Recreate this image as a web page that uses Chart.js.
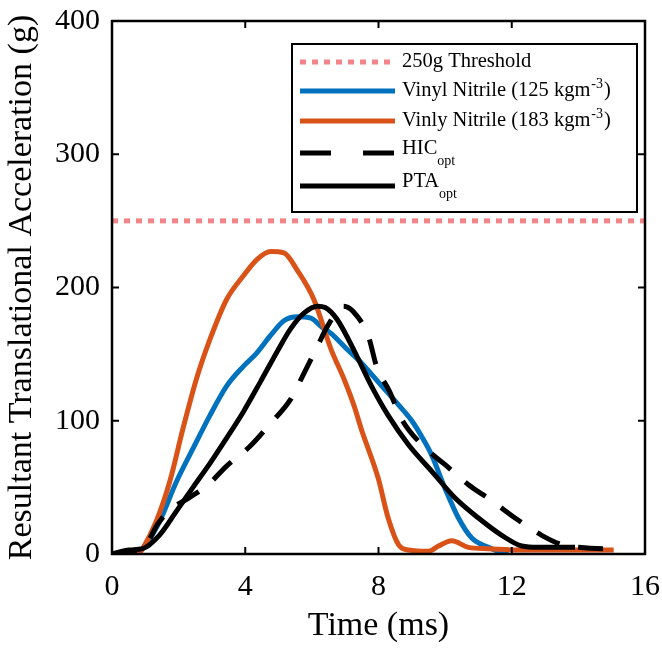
<!DOCTYPE html>
<html>
<head>
<meta charset="utf-8">
<script src="https://cdn.jsdelivr.net/npm/chart.js@4"></script>
<style>
  body { margin: 0; background: #fff; }
  #wrap { width: 662px; height: 650px; }
</style>
</head>
<body>
<div id="wrap"><canvas id="accChart" width="662" height="650"></canvas></div>
<script>
// values (time in ms, acceleration in g)
const xTicks = [0, 4, 8, 12, 16];
const yTicks = [0, 100, 200, 300, 400];
const threshold = 250;

const vn125T = [0.7, 0.92, 1.42, 1.93, 2.43, 2.94, 3.44, 3.95, 4.35, 4.76, 5.16, 5.56, 5.97, 6.27, 6.6, 7.0, 7.5, 8.1, 8.6, 9.0, 9.3, 9.6, 10.0, 10.4, 10.8, 11.3, 11.7, 11.9];
const vn125G = [0, 4, 24, 54, 79, 104, 126, 141, 151, 164, 175, 178, 177, 171, 165, 155, 143, 126, 112, 100, 88, 74, 49, 27, 12, 5, 1, 0];

const vn183T = [0.8, 0.92, 1.32, 1.73, 2.13, 2.53, 2.94, 3.44, 3.95, 4.35, 4.76, 5.16, 5.56, 6.06, 6.57, 6.97, 7.27, 7.48, 7.99, 8.29, 8.6, 8.9, 9.5, 9.8, 10.2, 10.7, 11.3, 12.3, 15.06];
const vn183G = [0, 4, 24, 54, 94, 131, 161, 191, 209, 221, 227, 226, 213, 191, 154, 131, 111, 94, 57, 27, 7, 3, 2, 6, 10, 5, 4, 3, 3];

const hicT = [0, 0.5, 0.9, 1.1, 1.36, 1.73, 2.3, 2.84, 3.44, 4.15, 4.76, 5.36, 5.77, 6.17, 6.47, 6.95, 7.24, 7.7, 7.94, 8.33, 8.7, 9.3, 10.0, 10.7, 11.4, 12.1, 12.9, 13.5, 14.0, 14.8, 15.1];
const hicG = [0, 2, 4, 10, 22, 33, 42, 51, 66, 81, 98, 116, 136, 156, 171, 186, 182, 163, 141, 122, 101, 82, 67, 52, 40, 27, 14, 7, 5, 4, 4];

const ptaT = [0, 0.52, 0.92, 1.42, 1.93, 2.43, 2.94, 3.44, 3.95, 4.45, 4.96, 5.36, 5.77, 6.17, 6.4, 6.76, 7.36, 7.79, 8.29, 8.9, 9.6, 10.3, 11.0, 11.7, 12.3, 12.8, 13.9];
const ptaG = [0, 3, 4, 14, 32, 50, 68, 87, 107, 129, 152, 169, 181, 186, 185, 176, 148, 126, 104, 82, 62, 42, 27, 14, 6, 5, 5];

const pink = 'rgb(243,132,137)';
const blue = '#0072BD';
const orange = '#D95319';
const serif = '"Liberation Serif", "Times New Roman", serif';

function pts(ts, gs) {
    return ts.map((t, i) => ({ x: t, y: gs[i] }));
}

// box round the plot with inward ticks on all four sides
const frame = {
    id: 'frame',
    afterDatasetsDraw(chart) {
        const { ctx, chartArea: a, scales: { x, y } } = chart;
        ctx.save();
        ctx.strokeStyle = '#000';
        ctx.lineWidth = 2.5;
        ctx.strokeRect(a.left, a.top, a.right - a.left, a.bottom - a.top);
        ctx.lineWidth = 2;
        ctx.beginPath();
        xTicks.slice(1, -1).forEach(v => {
            const px = x.getPixelForValue(v);
            ctx.moveTo(px, a.bottom); ctx.lineTo(px, a.bottom - 7);
            ctx.moveTo(px, a.top); ctx.lineTo(px, a.top + 7);
        });
        yTicks.slice(1, -1).forEach(v => {
            const py = y.getPixelForValue(v);
            ctx.moveTo(a.left, py); ctx.lineTo(a.left + 7, py);
            ctx.moveTo(a.right, py); ctx.lineTo(a.right - 7, py);
        });
        ctx.stroke();
        ctx.restore();
    }
};

// legend box like the matlab one, with super/subscripts
const legendBox = {
    id: 'legendBox',
    afterDraw(chart) {
        const ctx = chart.ctx;
        const bx = 292, by = 44, bw = 345, bh = 168;
        ctx.save();
        ctx.fillStyle = '#fff';
        ctx.fillRect(bx, by, bw, bh);
        ctx.strokeStyle = '#000';
        ctx.lineWidth = 2;
        ctx.strokeRect(bx, by, bw, bh);

        const x0 = 300, x1 = 395, tx = 402;
        const rows = [62, 91, 121, 153, 186];
        const big = '20.5px ' + serif, small = '14px ' + serif;
        ctx.textBaseline = 'middle';
        ctx.textAlign = 'left';

        function sample(yy, color, dash, w) {
            ctx.beginPath();
            ctx.strokeStyle = color;
            ctx.lineWidth = w;
            ctx.setLineDash(dash);
            ctx.moveTo(x0, yy); ctx.lineTo(x1, yy);
            ctx.stroke();
            ctx.setLineDash([]);
        }
        function txt(s, xx, yy, f) {
            ctx.font = f;
            ctx.fillStyle = '#000';
            ctx.fillText(s, xx, yy);
            return xx + ctx.measureText(s).width;
        }

        sample(rows[0], pink, [6, 6], 5);
        txt('250g Threshold', tx, rows[0], big);

        sample(rows[1], blue, [], 5);
        let e = txt('Vinyl Nitrile (125 kgm', tx, rows[1], big);
        e = txt('-3', e + 1, rows[1] - 7, small);
        txt(')', e + 1, rows[1], big);

        sample(rows[2], orange, [], 5);
        e = txt('Vinly Nitrile (183 kgm', tx, rows[2], big);
        e = txt('-3', e + 1, rows[2] - 7, small);
        txt(')', e + 1, rows[2], big);

        sample(rows[3], '#000', [31, 32], 5);
        e = txt('HIC', tx, rows[3] - 4, big);
        txt('opt', e, rows[3] + 8, small);

        sample(rows[4], '#000', [], 5);
        e = txt('PTA', tx, rows[4] - 4, big);
        txt('opt', e, rows[4] + 8, small);
        ctx.restore();
    }
};

const lineStyle = { pointRadius: 0, fill: false, borderWidth: 5, cubicInterpolationMode: 'monotone', borderCapStyle: 'butt' };

new Chart(document.getElementById('accChart'), {
    type: 'line',
    data: {
        datasets: [
            { label: '250g Threshold', data: [{ x: 0, y: threshold }, { x: 16, y: threshold }], borderColor: pink, borderWidth: 5, borderDash: [6, 6], pointRadius: 0, order: 5 },
            Object.assign({ label: 'Vinyl Nitrile (125 kgm-3)', data: pts(vn125T, vn125G), borderColor: blue, order: 4 }, lineStyle),
            Object.assign({ label: 'Vinly Nitrile (183 kgm-3)', data: pts(vn183T, vn183G), borderColor: orange, order: 3 }, lineStyle),
            Object.assign({ label: 'HICopt', data: pts(hicT, hicG), borderColor: '#000', borderDash: [25, 19], order: 2 }, lineStyle),
            Object.assign({ label: 'PTAopt', data: pts(ptaT, ptaG), borderColor: '#000', order: 1 }, lineStyle)
        ]
    },
    options: {
        responsive: false,
        animation: false,
        layout: { padding: { top: 21, right: 0, left: 0, bottom: 0 } },
        plugins: { legend: { display: false }, tooltip: { enabled: false } },
        scales: {
            x: {
                type: 'linear', min: 0, max: 16,
                afterFit: s => { s.height = 96; s.paddingLeft = 0; s.paddingRight = 17; },
                afterBuildTicks: s => { s.ticks = xTicks.map(v => ({ value: v })); },
                grid: { display: false, drawTicks: false },
                border: { display: false },
                ticks: { color: '#000', padding: 15, maxRotation: 0, font: { family: serif, size: 30 } },
                title: { display: true, text: 'Time (ms)', color: '#000', font: { family: serif, size: 34 }, padding: { bottom: 4 } }
            },
            y: {
                min: 0, max: 400,
                afterFit: s => { s.width = 112; s.paddingTop = 0; s.paddingBottom = 0; },
                afterBuildTicks: s => { s.ticks = yTicks.map(v => ({ value: v })); },
                grid: { display: false, drawTicks: false },
                border: { display: false },
                ticks: { color: '#000', padding: 12, font: { family: serif, size: 30 } },
                title: { display: true, text: 'Resultant Translational Acceleration (g)', color: '#000', font: { family: serif, size: 34 }, padding: { top: 2 } }
            }
        }
    },
    plugins: [frame, legendBox]
});
</script>
</body>
</html>
